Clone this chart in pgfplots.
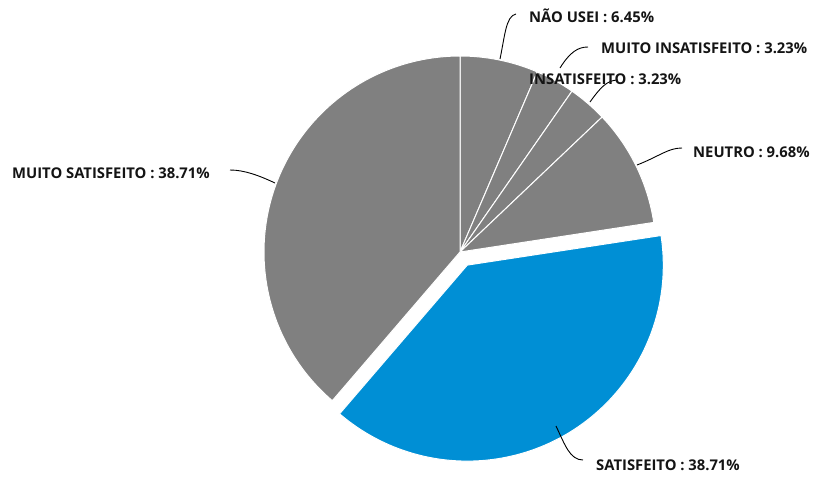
\documentclass[border=0pt]{standalone}
\usepackage{pgfplots}
\usepackage{pgfplotstable}
\pgfplotsset{compat=1.18}
\usepackage{fontspec}
\setmainfont{Open Sans}
\definecolor{piegray}{RGB}{128,128,128}
\definecolor{pieblue}{RGB}{0,143,213}
\definecolor{labtxt}{RGB}{20,20,20}

\pgfplotstableread[col sep=comma]{
name,value,col,explode
NÃO USEI,6.45,piegray,0
MUITO INSATISFEITO,3.23,piegray,0
INSATISFEITO,3.23,piegray,0
NEUTRO,9.68,piegray,0
SATISFEITO,38.71,pieblue,15
MUITO SATISFEITO,38.71,piegray,0
}\piedata

\begin{document}
\begin{tikzpicture}
\begin{axis}[
  width=814pt, height=479pt, scale only axis,
  xmin=0, xmax=814, ymin=0, ymax=479, y dir=reverse,
  hide axis, clip=false,
]
\path (rel axis cs:0,0) rectangle (rel axis cs:1,1);
% total
\def\total{0}
\pgfplotsforeachungrouped \i in {0,...,5}{%
  \pgfplotstablegetelem{\i}{value}\of\piedata
  \pgfmathsetmacro\total{\total+\pgfplotsretval}%
}
\def\cum{0}
\pgfplotsforeachungrouped \i in {0,...,5}{%
  \pgfplotstablegetelem{\i}{value}\of\piedata \let\pv\pgfplotsretval
  \pgfplotstablegetelem{\i}{col}\of\piedata \let\pc\pgfplotsretval
  \pgfplotstablegetelem{\i}{explode}\of\piedata \let\pex\pgfplotsretval
  \pgfmathsetmacro\pa{90-3.6*(\cum*100/\total)}%
  \pgfmathsetmacro\pb{90-3.6*((\cum+\pv)*100/\total)}%
  \pgfmathsetmacro\pm{(\pa+\pb)/2}%
  \pgfmathsetmacro\pdx{\pex*cos(\pm)}%
  \pgfmathsetmacro\pdy{\pex*sin(\pm)}%
  \edef\temp{\noexpand\fill[\pc, draw=white, line width=1pt, line join=round]
    ([shift={(\pdx pt,\pdy pt)}]axis cs:460,252) -- ++(\pa:196pt)
    arc[start angle=\pa, end angle=\pb, radius=196pt] -- cycle;}%
  \temp
  \pgfmathsetmacro\cum{\cum+\pv}%
}
% leader lines
\begin{scope}[black, line width=0.9pt]
\draw (axis cs:500,59) .. controls (axis cs:505,35) and (axis cs:506,16) .. (axis cs:516,14);
\draw (axis cs:560,68) .. controls (axis cs:570,52) and (axis cs:578,47) .. (axis cs:588,47);
\draw (axis cs:590,102) .. controls (axis cs:600,88) and (axis cs:607,80) .. (axis cs:618,80);
\draw (axis cs:637,165) .. controls (axis cs:660,156) and (axis cs:668,148) .. (axis cs:682,148);
\draw (axis cs:230,170) .. controls (axis cs:245,170) and (axis cs:260,176) .. (axis cs:275,183);
\draw (axis cs:556,426) .. controls (axis cs:565,445) and (axis cs:570,460) .. (axis cs:583,460);
\end{scope}
% labels
\begin{scope}[every node/.style={anchor=base west, inner sep=0pt, text=labtxt, font=\fontsize{14.8}{16}\selectfont\bfseries}]
\node at (axis cs:529,23) {NÃO USEI : 6.45\%};
\node at (axis cs:601,53) {MUITO INSATISFEITO : 3.23\%};
\node at (axis cs:529,84) {INSATISFEITO : 3.23\%};
\node at (axis cs:693,157) {NEUTRO : 9.68\%};
\node at (axis cs:12,178) {MUITO SATISFEITO : 38.71\%};
\node at (axis cs:596,470) {SATISFEITO : 38.71\%};
\end{scope}
\end{axis}
\end{tikzpicture}
\end{document}
